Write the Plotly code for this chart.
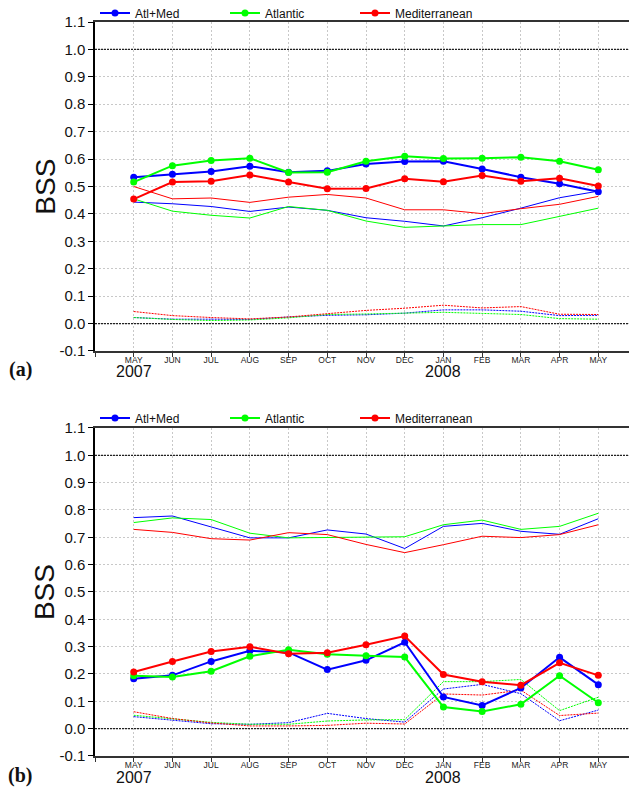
import plotly.graph_objects as go

# months on the x axis (May 2007 .. May 2008)
months = ["MAY", "JUN", "JUL", "AUG", "SEP", "OCT", "NOV", "DEC",
          "JAN", "FEB", "MAR", "APR", "MAY"]
years = ["2007", "2008"]
year_pos = [0, 8]
yticks = [-0.1, 0.0, 0.1, 0.2, 0.3, 0.4, 0.5, 0.6, 0.7, 0.8, 0.9, 1.0, 1.1]

# panel (a)
atlmed_a = [0.534, 0.545, 0.555, 0.574, 0.552, 0.557, 0.582, 0.591, 0.592, 0.564, 0.534, 0.510, 0.481]
atl_a = [0.516, 0.576, 0.595, 0.603, 0.551, 0.552, 0.592, 0.610, 0.602, 0.603, 0.607, 0.592, 0.561]
med_a = [0.454, 0.516, 0.519, 0.542, 0.516, 0.492, 0.493, 0.528, 0.517, 0.540, 0.519, 0.530, 0.502]
atlmed_a_thin = [0.443, 0.437, 0.427, 0.409, 0.425, 0.413, 0.386, 0.373, 0.356, 0.386, 0.421, 0.459, 0.483]
atl_a_thin = [0.455, 0.410, 0.395, 0.385, 0.427, 0.413, 0.374, 0.351, 0.356, 0.361, 0.361, 0.391, 0.421]
med_a_thin = [0.500, 0.455, 0.458, 0.442, 0.461, 0.471, 0.458, 0.415, 0.415, 0.401, 0.419, 0.435, 0.464]
atlmed_a_dot = [0.022, 0.016, 0.016, 0.015, 0.024, 0.030, 0.032, 0.038, 0.050, 0.050, 0.045, 0.029, 0.030]
atl_a_dot = [0.022, 0.015, 0.011, 0.013, 0.021, 0.033, 0.035, 0.039, 0.041, 0.037, 0.033, 0.018, 0.016]
med_a_dot = [0.044, 0.029, 0.022, 0.017, 0.024, 0.035, 0.048, 0.056, 0.067, 0.057, 0.062, 0.034, 0.033]

# panel (b)
atlmed_b = [0.183, 0.195, 0.246, 0.285, 0.279, 0.216, 0.250, 0.316, 0.116, 0.085, 0.149, 0.261, 0.161]
atl_b = [0.194, 0.189, 0.210, 0.265, 0.289, 0.272, 0.267, 0.262, 0.079, 0.063, 0.089, 0.194, 0.095]
med_b = [0.207, 0.246, 0.282, 0.300, 0.274, 0.278, 0.307, 0.339, 0.198, 0.172, 0.159, 0.241, 0.195]
atlmed_b_thin = [0.772, 0.778, 0.738, 0.698, 0.698, 0.727, 0.712, 0.659, 0.740, 0.751, 0.722, 0.711, 0.768]
atl_b_thin = [0.754, 0.771, 0.765, 0.715, 0.698, 0.700, 0.701, 0.702, 0.746, 0.763, 0.729, 0.740, 0.788]
med_b_thin = [0.729, 0.718, 0.695, 0.690, 0.717, 0.710, 0.674, 0.644, 0.673, 0.704, 0.699, 0.710, 0.746]
atlmed_b_dot = [0.044, 0.030, 0.018, 0.016, 0.022, 0.056, 0.037, 0.024, 0.145, 0.162, 0.128, 0.029, 0.068]
atl_b_dot = [0.049, 0.037, 0.023, 0.016, 0.016, 0.028, 0.032, 0.033, 0.172, 0.172, 0.180, 0.066, 0.115]
med_b_dot = [0.062, 0.037, 0.021, 0.010, 0.010, 0.012, 0.020, 0.017, 0.127, 0.123, 0.141, 0.048, 0.057]

BLUE, GREEN, RED = "#0000ff", "#00ff00", "#ff0000"
FONT = "Arial, Liberation Sans, sans-serif"
x = list(range(len(months)))

fig = go.Figure()

panels = [
    ("x", "y", "legend", [atlmed_a, atl_a, med_a],
     [atlmed_a_thin, atl_a_thin, med_a_thin], [atlmed_a_dot, atl_a_dot, med_a_dot]),
    ("x2", "y2", "legend2", [atlmed_b, atl_b, med_b],
     [atlmed_b_thin, atl_b_thin, med_b_thin], [atlmed_b_dot, atl_b_dot, med_b_dot]),
]
names = ["Atl+Med", "Atlantic", "Mediterranean"]
colors = [BLUE, GREEN, RED]

for xa, ya, leg, thick, thin, dots in panels:
    for vals, c in zip(dots, colors):
        fig.add_trace(go.Scatter(x=x, y=vals, mode="lines", xaxis=xa, yaxis=ya,
                                 line=dict(color=c, width=1, dash="2px,1px"),
                                 showlegend=False, hoverinfo="skip"))
    for vals, c in zip(thin, colors):
        fig.add_trace(go.Scatter(x=x, y=vals, mode="lines", xaxis=xa, yaxis=ya,
                                 line=dict(color=c, width=1),
                                 showlegend=False, hoverinfo="skip"))
    for vals, c, n in zip(thick, colors, names):
        fig.add_trace(go.Scatter(x=x, y=vals, mode="lines+markers", xaxis=xa, yaxis=ya,
                                 name=n, legend=leg,
                                 line=dict(color=c, width=2),
                                 marker=dict(color=c, size=7)))

xaxis_style = dict(
    range=[-1, 13], tickvals=[-1] + x, ticktext=[""] + months,
    showgrid=True, gridcolor="#c8c8c8", griddash="2px,2px", gridwidth=1,
    showline=True, linecolor="#333333", linewidth=2, mirror=True,
    ticks="outside", ticklen=4, tickcolor="#333333", ticklabelstandoff=-4,
    tickfont=dict(family=FONT, size=8.5, color="#222222"),
    zeroline=False, automargin=False,
)
yaxis_style = dict(
    range=[-0.1, 1.1], tickvals=yticks, ticktext=["%.1f" % v for v in yticks],
    showgrid=True, gridcolor="#c8c8c8", griddash="2px,2px", gridwidth=1,
    showline=True, linecolor="black", linewidth=1.5,
    ticks="outside", ticklen=5, tickcolor="black",
    tickfont=dict(family=FONT, size=15, color="#111111"),
    zeroline=False, automargin=False,
)

top_dom = [0.5518, 1.0]
bot_dom = [0.0, 0.4469]
legend_style = dict(orientation="h", x=0, xanchor="left", yref="container",
                    yanchor="middle", entrywidth=85, entrywidthmode="pixels",
                    font=dict(family=FONT, size=12, color="#111111"),
                    bgcolor="rgba(0,0,0,0)", tracegroupgap=0)

# the page adds an 8px body margin, so the figure is 8px smaller than the window
fig.update_layout(
    template="none",
    width=629, height=779,
    margin=dict(l=87, r=0, t=14, b=31, autoexpand=False),
    plot_bgcolor="white", paper_bgcolor="white",
    xaxis=dict(xaxis_style, anchor="y"),
    yaxis=dict(yaxis_style, domain=top_dom, anchor="x"),
    xaxis2=dict(xaxis_style, anchor="y2"),
    yaxis2=dict(yaxis_style, domain=bot_dom, anchor="x2"),
    legend=dict(legend_style, y=1 - 5 / 779),
    legend2=dict(legend_style, y=1 - 410 / 779),
    showlegend=True,
)

# dark dotted reference lines at 1.0 and 0.0
for xr, yr in [("x domain", "y"), ("x2 domain", "y2")]:
    for lvl in [0.0, 1.0]:
        fig.add_shape(type="line", xref=xr, yref=yr, x0=0, x1=1, y0=lvl, y1=lvl,
                      line=dict(color="#222222", width=1.3, dash="2px,1px"))

annotations = []
for xr, yr in [("x", "y domain"), ("x2", "y2 domain")]:
    for yr_txt, pos in zip(years, year_pos):
        annotations.append(dict(text=yr_txt, x=pos, xref=xr, y=0, yref=yr,
                                yshift=-21, yanchor="middle", showarrow=False,
                                font=dict(family=FONT, size=16, color="#111111")))
    annotations.append(dict(text="BSS", x=-0.092, xref="paper", y=0.5, yref=yr,
                            textangle=-90, showarrow=False, xanchor="center",
                            yanchor="middle",
                            font=dict(family=FONT, size=28, color="#111111")))
for lab, yp in [("(a)", 0.526), ("(b)", -0.026)]:
    annotations.append(dict(text="<b>%s</b>" % lab, x=-0.138, xref="paper", y=yp,
                            yref="paper", showarrow=False, xanchor="center",
                            yanchor="middle",
                            font=dict(family="Liberation Serif, Times New Roman, serif",
                                      size=20, color="#111111")))
fig.update_layout(annotations=annotations)

fig.write_html("out.html")
